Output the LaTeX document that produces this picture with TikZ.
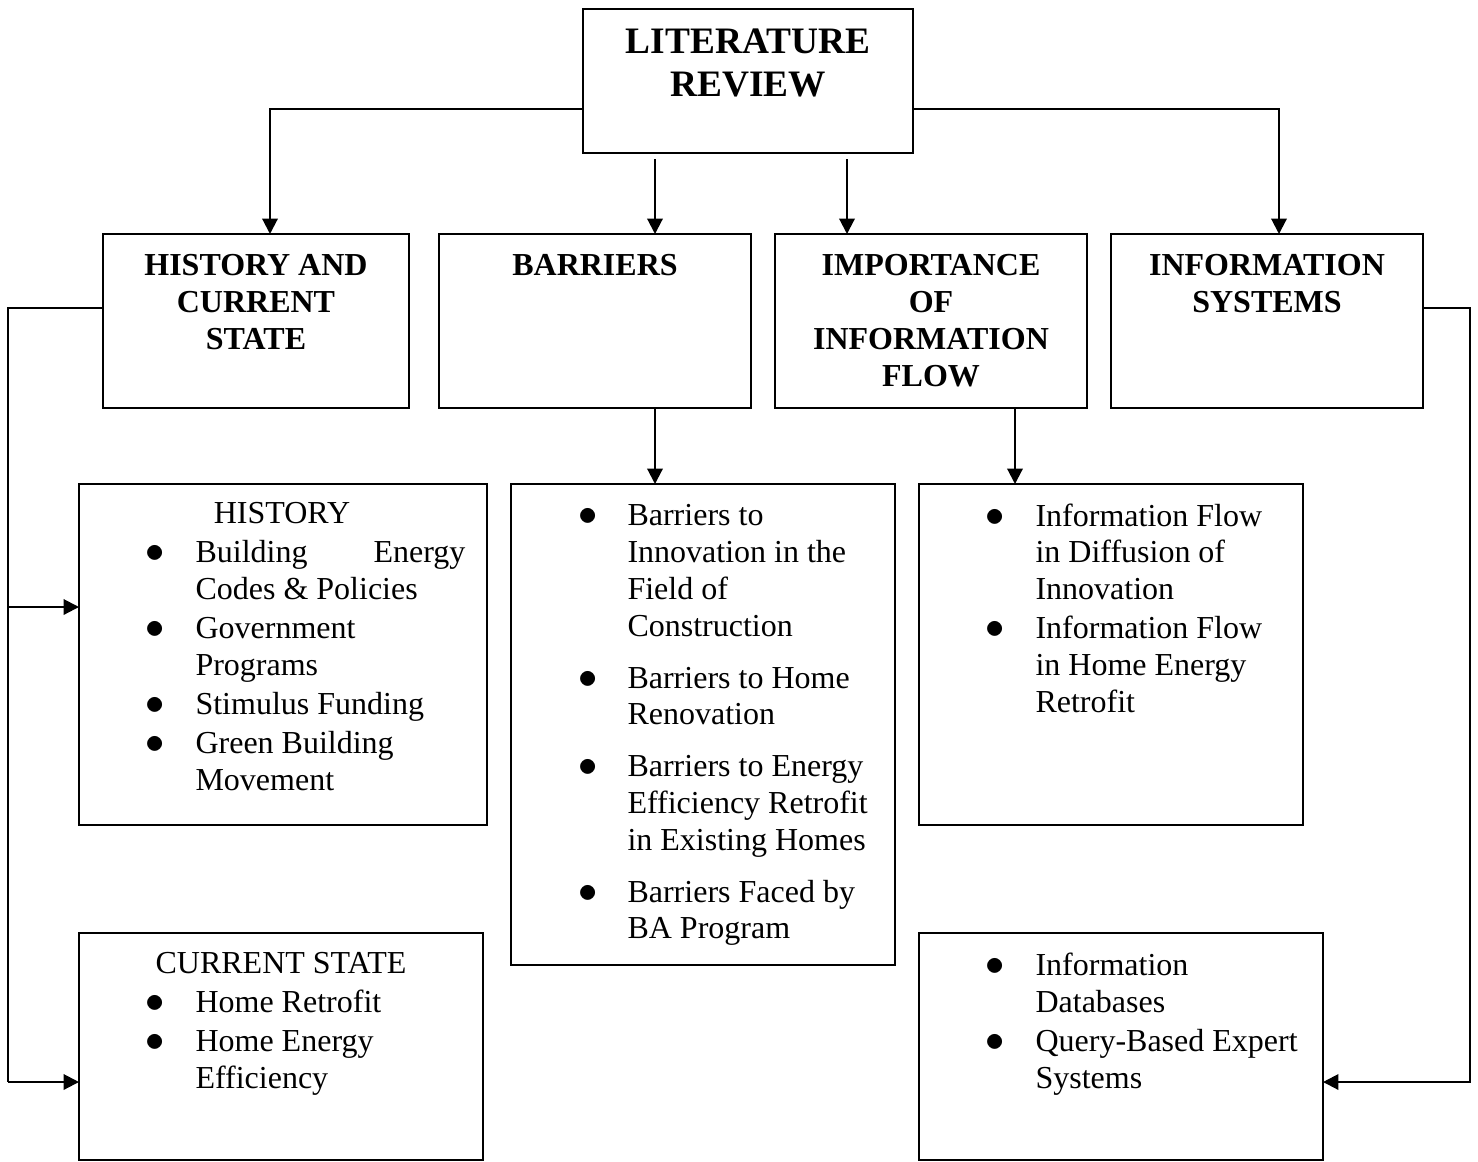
\documentclass[tikz,border=0pt]{standalone}
\usepackage{fontspec}
\setmainfont{Liberation Serif}
\usetikzlibrary{arrows.meta}
\begin{document}
\begin{tikzpicture}[x=0.375pt,y=-0.375pt,
  box/.style={draw,line width=0.8pt,inner sep=0pt,outer sep=0pt},
  conn/.style={line width=0.8pt},
  arr/.style={conn,-{Triangle[length=5.8pt,width=5.8pt]}},
  ttl/.style={font=\fontsize{14}{16}\selectfont\bfseries,inner sep=0pt,anchor=base},
  hd/.style={font=\fontsize{12}{13.8}\selectfont\bfseries,inner sep=0pt,anchor=base},
  listhead/.style={font=\fontsize{12}{13.8}\selectfont,inner sep=0pt,anchor=base},
  txt/.style={font=\fontsize{12}{13.8}\selectfont,inner sep=0pt,anchor=base west},
  bul/.style={font=\fontsize{13.5}{13.8}\selectfont,inner sep=0pt,anchor=base}]
\useasboundingbox (0,0) rectangle (1478,1161);

% boxes
\node[box,minimum width=330*0.375pt,minimum height=144*0.375pt] (lit) at (748,81) {};
\node[box,minimum width=306*0.375pt,minimum height=174*0.375pt] (hcs) at (256,321) {};
\node[box,minimum width=312*0.375pt,minimum height=174*0.375pt] (bar) at (595,321) {};
\node[box,minimum width=312*0.375pt,minimum height=174*0.375pt] (imp) at (931,321) {};
\node[box,minimum width=312*0.375pt,minimum height=174*0.375pt] (isy) at (1267,321) {};
\node[box,minimum width=408*0.375pt,minimum height=341*0.375pt] (hist) at (283,654.5) {};
\node[box,minimum width=404*0.375pt,minimum height=227*0.375pt] (cur) at (281,1046.5) {};
\node[box,minimum width=384*0.375pt,minimum height=481*0.375pt] (blist) at (703,724.5) {};
\node[box,minimum width=384*0.375pt,minimum height=341*0.375pt] (flist) at (1111,654.5) {};
\node[box,minimum width=404*0.375pt,minimum height=227*0.375pt] (slist) at (1121,1046.5) {};

% titles
\node[ttl] (litA) at (748,53) {LITERATURE};
\node[ttl] (litB) at (748,96) {REVIEW};
\node[hd] (hcsA) at (256,275) {HISTORY AND};
\node[hd] (hcsB) at (256,312) {CURRENT};
\node[hd] (hcsC) at (256,349) {STATE};
\node[hd] (barA) at (595,275) {BARRIERS};
\node[hd] (impA) at (931,275) {IMPORTANCE};
\node[hd] (impB) at (931,312) {OF};
\node[hd] (impC) at (931,349) {INFORMATION};
\node[hd] (impD) at (931,386) {FLOW};
\node[hd] (isyA) at (1267,275) {INFORMATION};
\node[hd] (isyB) at (1267,312) {SYSTEMS};

% history list
\node[listhead] (histT) at (282,523) {HISTORY};
\node[bul] (hb1) at (155,562) {$\bullet$};
\node[txt] (h1a) at (195,562) {Building};
\node[txt,anchor=base east] (h1b) at (466,562) {Energy};
\node[txt] (h1c) at (195,599) {Codes \& Policies};
\node[bul] (hb2) at (155,638) {$\bullet$};
\node[txt] (h2a) at (195,638) {Government};
\node[txt] (h2b) at (195,675) {Programs};
\node[bul] (hb3) at (155,714) {$\bullet$};
\node[txt] (h3a) at (195,714) {Stimulus Funding};
\node[bul] (hb4) at (155,753) {$\bullet$};
\node[txt] (h4a) at (195,753) {Green Building};
\node[txt] (h4b) at (195,790) {Movement};

% current state list
\node[listhead] (curT) at (281,973) {CURRENT STATE};
\node[bul] (cb1) at (155,1012) {$\bullet$};
\node[txt] (c1a) at (195,1012) {Home Retrofit};
\node[bul] (cb2) at (155,1051) {$\bullet$};
\node[txt] (c2a) at (195,1051) {Home Energy};
\node[txt] (c2b) at (195,1088) {Efficiency};

% barriers list
\node[bul] (bb1) at (588,525) {$\bullet$};
\node[txt] (b1a) at (627,525) {Barriers to};
\node[txt] (b1b) at (627,562) {Innovation in the};
\node[txt] (b1c) at (627,599) {Field of};
\node[txt] (b1d) at (627,636) {Construction};
\node[bul] (bb2) at (588,688) {$\bullet$};
\node[txt] (b2a) at (627,688) {Barriers to Home};
\node[txt] (b2b) at (627,724) {Renovation};
\node[bul] (bb3) at (588,776) {$\bullet$};
\node[txt] (b3a) at (627,776) {Barriers to Energy};
\node[txt] (b3b) at (627,813) {Efficiency Retrofit};
\node[txt] (b3c) at (627,850) {in Existing Homes};
\node[bul] (bb4) at (588,902) {$\bullet$};
\node[txt] (b4a) at (627,902) {Barriers Faced by};
\node[txt] (b4b) at (627,938) {BA Program};

% information flow list
\node[bul] (fb1) at (995,526) {$\bullet$};
\node[txt] (f1a) at (1035,526) {Information Flow};
\node[txt] (f1b) at (1035,562) {in Diffusion of};
\node[txt] (f1c) at (1035,599) {Innovation};
\node[bul] (fb2) at (995,638) {$\bullet$};
\node[txt] (f2a) at (1035,638) {Information Flow};
\node[txt] (f2b) at (1035,675) {in Home Energy};
\node[txt] (f2c) at (1035,712) {Retrofit};

% information systems list
\node[bul] (sb1) at (995,975) {$\bullet$};
\node[txt] (s1a) at (1035,975) {Information};
\node[txt] (s1b) at (1035,1012) {Databases};
\node[bul] (sb2) at (995,1051) {$\bullet$};
\node[txt] (s2a) at (1035,1051) {Query-Based Expert};
\node[txt] (s2b) at (1035,1088) {Systems};

% connector bend points
\coordinate (tl) at (270,109);
\coordinate (tr) at (1279,109);
\coordinate (m1) at (655,159);
\coordinate (m2) at (847,159);
\coordinate (d1) at (655,0);
\coordinate (d2) at (1015,0);
\coordinate (lt) at (8,308);
\coordinate (lm) at (8,607);
\coordinate (lb) at (8,1082);
\coordinate (rt) at (1470,308);
\coordinate (rb) at (1470,1082);

% connectors
\draw[arr] (lit.west |- tl) -| (tl |- hcs.north);
\draw[arr] (lit.east |- tr) -| (tr |- isy.north);
\draw[arr] (m1) -- (m1 |- bar.north);
\draw[arr] (m2) -- (m2 |- imp.north);
\draw[arr] (d1 |- bar.south) -- (d1 |- blist.north);
\draw[arr] (d2 |- imp.south) -- (d2 |- flist.north);
\draw[conn] (hcs.west |- lt) -- (lt) -- (lb);
\draw[arr] (lm) -- (lm -| hist.west);
\draw[arr] (lb) -- (lb -| cur.west);
\draw[arr] (isy.east |- rt) -- (rt) -- (rb) -- (rb -| slist.east);
\end{tikzpicture}
\end{document}
